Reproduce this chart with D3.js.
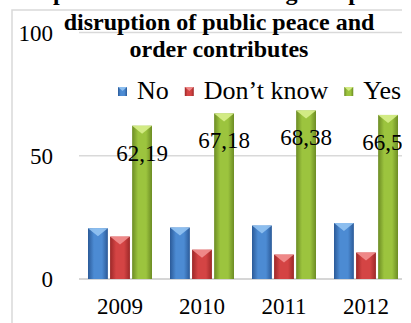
<!DOCTYPE html>
<html>
<head>
<meta charset="utf-8">
<script src="https://cdn.jsdelivr.net/npm/d3@7"></script>
<style>
  html, body { margin: 0; padding: 0; background: #ffffff; overflow: hidden; }
  svg { display: block; }
</style>
</head>
<body>
<svg id="chart" width="411" height="323"></svg>
<script>
// Survey answers by year, percent of respondents
const years = ["2009", "2010", "2011", "2012"];
const seriesNames = ["No", "Don\u2019t know", "Yes"];
const noValues = [20.6, 20.9, 21.7, 22.7];
const dontKnowValues = [17.2, 11.9, 9.9, 10.74];
const yesValues = [62.19, 67.18, 68.38, 66.56];
const yTicks = [0, 50, 100];
const titleLines = ["disruption of public peace and", "order contributes"];
const headerLine = "protest actions are a big and persistent problem";

const SERIF = "'Liberation Serif', Tinos, 'Times New Roman', 'DejaVu Serif', 'Noto Serif', serif";

const seriesValues = [noValues, dontKnowValues, yesValues];
const palette = [
  { edge: "#2b5a98", mid: "#4c8bd3", cap: "#93c3f2" },
  { edge: "#9c2828", mid: "#d44444", cap: "#f29090" },
  { edge: "#6c8c24", mid: "#9cc43e", cap: "#d8f08c" }
];

const svg = d3.select("#chart");
const defs = svg.append("defs");

palette.forEach((c, i) => {
  const g = defs.append("linearGradient").attr("id", "bar" + i)
    .attr("x1", "0%").attr("x2", "100%").attr("y1", "0%").attr("y2", "0%");
  g.append("stop").attr("offset", "0%").attr("stop-color", c.edge);
  g.append("stop").attr("offset", "30%").attr("stop-color", c.mid);
  g.append("stop").attr("offset", "70%").attr("stop-color", c.mid);
  g.append("stop").attr("offset", "100%").attr("stop-color", c.edge);
});

// The figure is cut off on its right side
defs.append("clipPath").attr("id", "figClip")
  .append("rect").attr("x", 0).attr("y", 0).attr("width", 402).attr("height", 323);

const root = svg.append("g").attr("clip-path", "url(#figClip)");

function serif(sel, size, bold) {
  return sel.attr("font-family", SERIF)
    .style("font-family", SERIF)
    .style("font-size", size + "px")
    .style("font-weight", bold ? "bold" : "normal")
    .attr("fill", "#000");
}

// Cropped header line of the figure above the chart frame
serif(root.append("text").attr("x", 53).attr("y", 0), 24, true)
  .text(headerLine);

// Chart frame
root.append("path")
  .attr("d", "M12,330 L12,10 L420,10")
  .attr("fill", "none").attr("stroke", "#d9d9d9").attr("stroke-width", 1.5);

const x = d3.scaleBand().domain(years).range([79, 407]).padding(0);
const inner = d3.scaleBand().domain(seriesNames)
  .range([9, x.bandwidth() - 9]).paddingInner(0.1).paddingOuter(0);
const y = d3.scaleLinear().domain([0, 100]).range([279, 32.5]);

// Gridlines
root.append("g").selectAll("line").data(yTicks).join("line")
  .attr("x1", 79).attr("x2", 411)
  .attr("y1", d => y(d)).attr("y2", d => y(d))
  .attr("stroke", d => d === 0 ? "#c8c8c8" : "#d9d9d9")
  .attr("stroke-width", 1.5);

// Y axis labels
const yAxis = d3.axisLeft(y).tickValues(yTicks).tickSize(0).tickPadding(0);
const yg = root.append("g").attr("transform", "translate(53,0)").call(yAxis);
yg.attr("font-family", SERIF);
yg.select(".domain").remove();
serif(yg.selectAll("text").attr("x", 0).attr("dy", "0.34em"), 23, false);

// X axis labels
const xAxis = d3.axisBottom(x).tickSize(0).tickPadding(0);
const xg = root.append("g").attr("transform", "translate(0,314)").call(xAxis);
xg.attr("font-family", SERIF);
xg.select(".domain").remove();
serif(xg.selectAll("text").attr("y", 0).attr("dy", 0), 23, false);

// Bars
const barData = [];
years.forEach((yr, i) => {
  seriesNames.forEach((s, k) => {
    barData.push({ year: yr, series: s, k: k, value: seriesValues[k][i] });
  });
});

const bars = root.append("g").selectAll("g").data(barData).join("g");
bars.append("rect")
  .attr("x", d => x(d.year) + inner(d.series))
  .attr("y", d => y(d.value))
  .attr("width", inner.bandwidth())
  .attr("height", d => y(0) - y(d.value))
  .attr("fill", d => "url(#bar" + d.k + ")");
// Bevelled cap on each bar
bars.append("path")
  .attr("d", d => {
    const x0 = x(d.year) + inner(d.series);
    const w = inner.bandwidth();
    const y0 = y(d.value);
    return `M${x0},${y0} L${x0 + w},${y0} L${x0 + w / 2},${y0 + 8} Z`;
  })
  .attr("fill", d => palette[d.k].cap)
  .attr("opacity", 0.9);

// Value labels on the "Yes" bars
serif(root.append("g").selectAll("text").data(yesValues).join("text")
  .attr("x", (d, i) => x(years[i]) + inner("Yes") + inner.bandwidth() / 2)
  .attr("y", d => y(d) + 35)
  .attr("text-anchor", "middle"), 23, false)
  .text(d => d.toString().replace(".", ","));

// Title
serif(root.append("g").selectAll("text").data(titleLines).join("text")
  .attr("x", 219).attr("y", (d, i) => 30 + i * 27)
  .attr("text-anchor", "middle"), 24, true)
  .text(d => d);

// Legend
const legend = root.append("g");
let lx = 118;
seriesNames.forEach((s, k) => {
  legend.append("rect")
    .attr("x", lx).attr("y", 87).attr("width", 9).attr("height", 9)
    .attr("fill", "url(#bar" + k + ")");
  legend.append("path")
    .attr("d", `M${lx},87 L${lx + 9},87 L${lx + 4.5},91 Z`)
    .attr("fill", palette[k].cap).attr("opacity", 0.9);
  const t = serif(legend.append("text")
    .attr("x", lx + 19).attr("y", 99), 26, false)
    .text(s);
  lx = lx + 19 + t.node().getComputedTextLength() + 16;
});
</script>
</body>
</html>
